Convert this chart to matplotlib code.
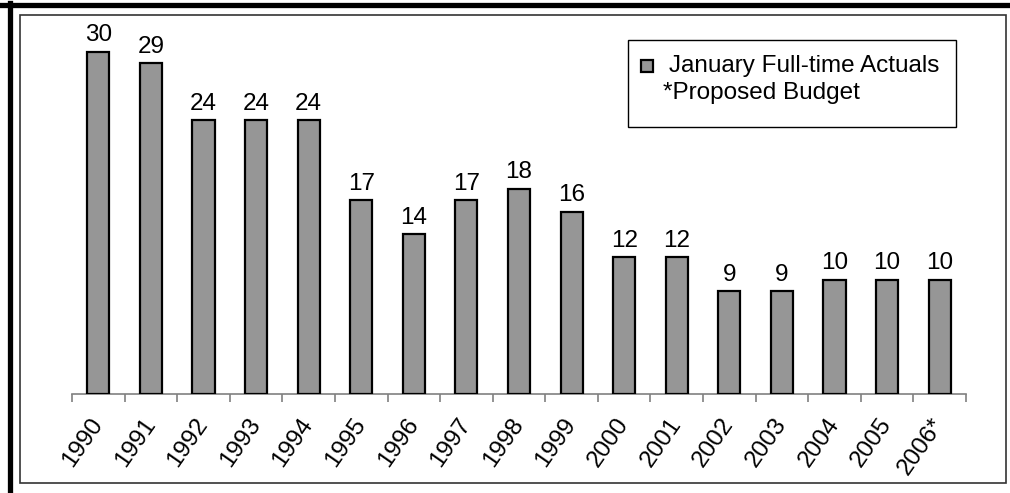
import numpy as np
import matplotlib.pyplot as plt
from matplotlib.patches import Rectangle
from matplotlib.lines import Line2D

years = ['1990', '1991', '1992', '1993', '1994', '1995', '1996', '1997', '1998',
         '1999', '2000', '2001', '2002', '2003', '2004', '2005', '2006*']
staff = [30, 29, 24, 24, 24, 17, 14, 17, 18, 16, 12, 12, 9, 9, 10, 10, 10]

plt.rcParams['font.family'] = ['Liberation Sans', 'DejaVu Sans']

W, H = 1010, 493
fig = plt.figure(figsize=(W / 100, H / 100), dpi=100)

# plot area in pixels: x 72..966, baseline y=394, top y~29
ax = fig.add_axes([72 / W, (H - 394) / H, (966 - 72) / W, (394 - 29.2) / H])
x = np.arange(len(years))
bars = ax.bar(x, staff, width=0.42, color='#969696', edgecolor='black', linewidth=1.6, zorder=3)
ax.bar_label(bars, padding=4, fontsize=17.5)

ax.set_xlim(-0.5, len(years) - 0.5)
ax.set_ylim(0, 32)
ax.set_yticks([])
for s in ['left', 'top', 'right']:
    ax.spines[s].set_visible(False)
ax.spines['bottom'].set_color('#808080')
ax.spines['bottom'].set_linewidth(1.2)

ax.set_xticks(x)
ax.set_xticklabels(years, rotation=55, ha='right', va='center', rotation_mode='anchor', fontsize=17.5)
ax.tick_params(axis='x', which='major', length=0, pad=19)
ax.set_xticks(np.arange(len(years) + 1) - 0.5, minor=True)
ax.tick_params(axis='x', which='minor', length=6, color='#808080', width=1.2)

# legend drawn by hand
def px(xp, yp):
    return xp / W, 1 - yp / H

lx, ly = px(628, 127)
fig.patches.append(Rectangle((lx, ly), (956 - 628) / W, (127 - 40) / H, transform=fig.transFigure,
                             facecolor='white', edgecolor='black', linewidth=1.0, zorder=5))
sx, sy = px(641, 72)
fig.patches.append(Rectangle((sx, sy), 12 / W, 12 / H, transform=fig.transFigure,
                             facecolor='#969696', edgecolor='black', linewidth=1.6, zorder=6))
fig.text(*px(669, 66), 'January Full-time Actuals', fontsize=17.5, va='center', ha='left', zorder=7)
fig.text(*px(663, 93), '*Proposed Budget', fontsize=17.5, va='center', ha='left', zorder=7)

# inner thin frame and thick outer border
fx0, fy0 = px(20, 483)
fig.patches.append(Rectangle((fx0, fy0), (1006 - 20) / W, (483 - 15) / H, transform=fig.transFigure,
                             facecolor='none', edgecolor='#333333', linewidth=1.2, zorder=4))
fig.lines.append(Line2D([0, 1], [1 - 5 / H, 1 - 5 / H], transform=fig.transFigure, color='black', linewidth=3.8))
fig.lines.append(Line2D([9.5 / W, 9.5 / W], [0, 1 - 3 / H], transform=fig.transFigure, color='black', linewidth=3.8))

fig.savefig('out.png', dpi=100)
